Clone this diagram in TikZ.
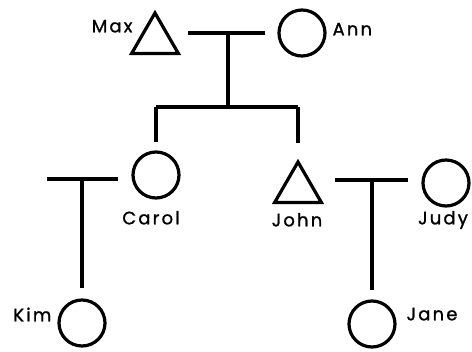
\documentclass[tikz,border=0pt]{standalone}
\usepackage{fontspec}
\newfontfamily\whofont{Poppins}[LetterSpace=12, FakeBold=1.2]
\usetikzlibrary{shapes.geometric,positioning}
\tikzset{
  female/.style={draw, circle, minimum size=34.5pt, inner sep=0pt},
  male/.style={draw, regular polygon, regular polygon sides=3, minimum size=40.5pt, inner sep=0pt},
  who/.style={font=\whofont\fontsize{13.5}{15}\selectfont, inner sep=0pt, text height=9.5pt, text depth=0pt},
}

\begin{document}
\begin{tikzpicture}[x=0.75pt, y=-0.75pt, line width=2.4pt]
    \useasboundingbox (0,0) rectangle (472,352);
    % first generation
    \node[male] (max) at (155,40) {};
    \node[female] (ann) at (302,33) {};
    \node[who, anchor=east] (maxname) at (134,26) {Max};
    \node[who, anchor=west] (annname) at (331,29) {Ann};
    % second generation
    \node[female] (carol) at (156,175) {};
    \node[male] (john) at (298,189) {};
    \node[female] (judy) at (446,183) {};
    \node[who] (carolname) at (151,218) {Carol};
    \node[who] (johnname) at (297,220) {John};
    \node[who] (judyname) at (443,218) {Judy};
    % third generation
    \node[female] (kim) at (82,323) {};
    \node[female] (jane) at (372,324) {};
    \node[who, anchor=east] (kimname) at (53,315) {Kim};
    \node[who, anchor=west] (janename) at (405,314) {Jane};
    % marriages
    \coordinate (u1) at (228,33);
    \coordinate (u2) at (82,179);
    \coordinate (u3) at (372,180);
    \coordinate (sib) at (228,107);
    \draw (u1) -- +(-40,0);
    \draw (u1) -- +(37,0);
    \draw (u2) -- +(-35,0);
    \draw (u2) -- +(36,0);
    \draw (u3) -- +(-37,0);
    \draw (u3) -- +(36,0);
    % descent
    \draw (u1) -- (sib);
    \draw (sib -| carol) -- (sib -| john);
    \draw[shorten >=6pt] (sib -| carol) -- (carol.north);
    \draw[shorten >=12pt] (sib -| john) -- (john.north);
    \draw[shorten >=7.5pt] (u2) -- (u2 |- kim.north);
    \draw[shorten >=7pt] (u3) -- (u3 |- jane.north);
\end{tikzpicture}
\end{document}
